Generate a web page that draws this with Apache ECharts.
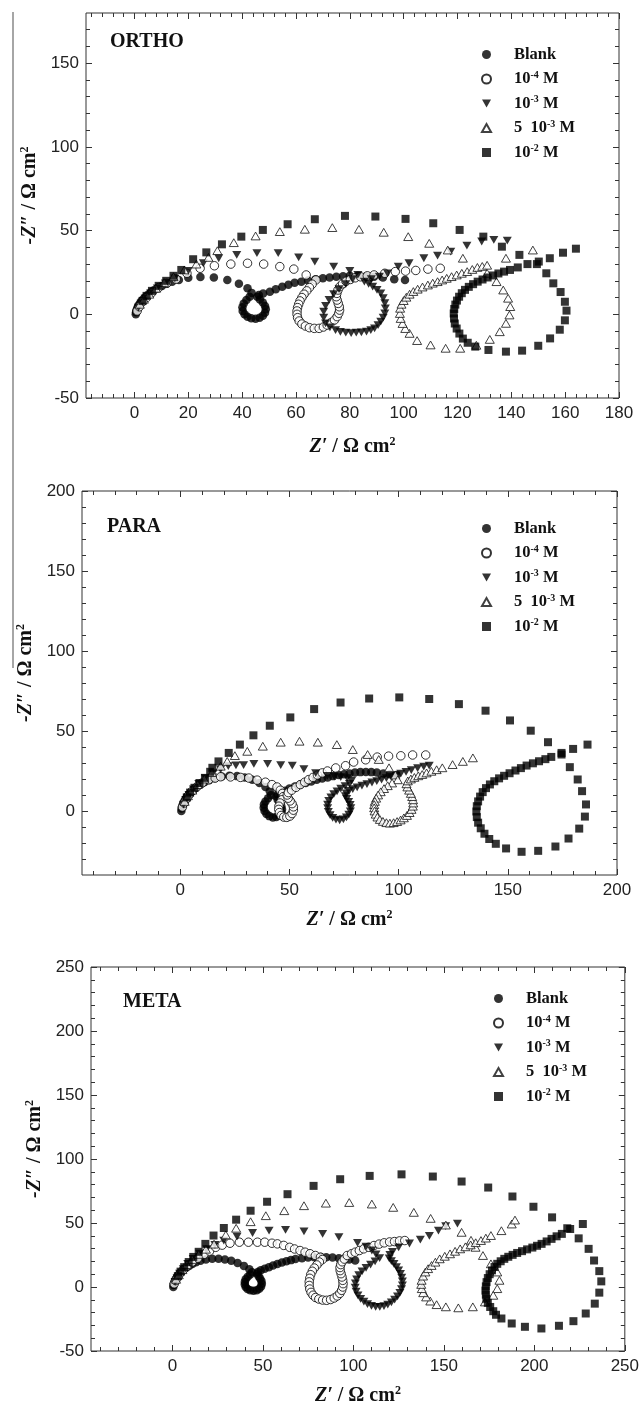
<!DOCTYPE html>
<html><head><meta charset="utf-8">
<script src="https://cdn.jsdelivr.net/npm/echarts@6/dist/echarts.min.js"></script>
<style>html,body{margin:0;padding:0;background:#fff}#c{width:642px;height:1410px}</style>
</head><body><div id="c"></div>
<script>
// ---------- series names / legend labels ----------
const seriesNames = ['Blank', '1e-4', '1e-3', '5e-3', '1e-2'];
const legendText = {
  'Blank': '{g| }{t|Blank}',
  '1e-4': '{g| }{t|10}{s|-4}{t| M}',
  '1e-3': '{g| }{t|10}{s|-3}{t| M}',
  '5e-3': '{g| }{t|5  10}{s|-3}{t| M}',
  '1e-2': '{g| }{t|10}{s|-2}{t| M}'
};
const panelTitles = ['ORTHO', 'PARA', 'META'];

// ---------- tick labels ----------
const orthoXTicks = [0, 20, 40, 60, 80, 100, 120, 140, 160, 180];
const orthoYTicks = [-50, 0, 50, 100, 150];
const paraXTicks = [0, 50, 100, 150, 200];
const paraYTicks = [0, 50, 100, 150, 200];
const metaXTicks = [0, 50, 100, 150, 200, 250];
const metaYTicks = [-50, 0, 50, 100, 150, 200, 250];

// ---------- ORTHO data [Z', -Z''] ----------
const orthoBlank = [[0.5,0],[0.6,1.3],[0.8,2.6],[1.1,3.9],[1.5,5.2],[2,6.5],[2.6,7.8],[3.3,9.1],[4.1,10.4],[5,11.7],[6,13],[7.2,14.3],[8.6,15.6],[10.2,16.9],[12,18.2],[14,19.4],[16.5,20.5],[20,21.8],[24.5,22.3],[29.5,22],[34.5,20.5],[38.8,18.3],[42,15.5],[43.5,12.8],[42.8,10.5],[41.6,8.5],[40.6,6.4],[40.1,4.2],[40.2,2],[40.9,0],[42,-1.5],[43.4,-2.4],[45,-2.6],[46.5,-2],[47.7,-0.8],[48.5,1],[48.8,3],[48.5,5],[47.7,7],[46.6,8.8],[45.6,10.5],[46.2,11.5],[47.8,12.5],[50.3,13.5],[52.5,15],[54.9,16.5],[57.2,17.7],[59.5,18.9],[62,19.5],[64.5,20.2],[67.3,21],[70,21.6],[72.5,22],[75,22.5],[77.5,22.8],[80,23],[83,23],[86,22.8],[89,22.5],[92.3,22],[96.5,21],[100.5,20.5]];
const orthoM4 = [[1,2],[1.8,4.5],[3,7.5],[4.5,10],[6.5,13],[9,16],[12,18.5],[15.5,21],[19.5,24.5],[24.4,27.5],[29.7,29],[35.8,30],[42,30.5],[48,30],[54,28.5],[59.2,27],[63.8,23.5],[67.4,20.5],[66,18],[65,16],[64,14],[63,12],[62.2,10],[61.5,8],[61,6],[60.6,4],[60.4,2],[60.4,0],[60.6,-2],[61.2,-4],[62.2,-5.8],[63.5,-7],[65,-8],[66.8,-8.4],[68.6,-8.4],[70.2,-7.6],[71.6,-6.4],[73,-5],[74.3,-3.4],[75.3,-1.4],[75.9,0.6],[76.2,2.5],[76.1,4.5],[75.7,6.5],[75.3,8.5],[75,10.5],[75.2,12.5],[75.6,14.5],[76.3,16.5],[77.3,18.2],[78.6,19.7],[80.2,20.8],[82,21.8],[84,22.4],[86.5,23],[89,23.5],[93,24.5],[96.9,25.5],[100.7,25.8],[104.5,26.2],[109,27],[113.6,27.5]];
const orthoM3 = [[1.5,4],[2.5,6.5],[4,9.5],[6,12.5],[8.5,15.5],[11.5,18.5],[15,21.5],[20,26],[25.6,30.5],[31.3,33.5],[38,35.5],[45.5,36.5],[53.4,36.5],[61,34],[67,31.5],[74,28.5],[80,26],[83,23.5],[81,21],[78.5,18],[76,15],[74,12],[72.3,8.6],[71,5],[70.3,1.6],[70.3,-2],[71,-5.4],[72.6,-7.8],[74.7,-9.4],[76.5,-10.5],[78.5,-11],[80.5,-11.2],[82.4,-11],[84.3,-10.8],[86.2,-10.4],[87.8,-9.5],[89.2,-8.4],[90.5,-6.5],[91.5,-4.4],[92.4,-2],[93,0.6],[93.2,3.5],[93,6.6],[92.4,9.6],[91.5,12.5],[90.1,14.6],[88.5,16.5],[87,18.2],[85.4,19.5],[88,21],[91,22.5],[94,24.5],[98,28.5],[102,30.5],[107.5,33.5],[112.6,35],[117.5,37.5],[123.5,41],[129,43.5],[133.5,44.5],[138.5,44]];
const ortho5M3 = [[2,6],[3.5,9],[5.5,12],[8,15.5],[11,19],[14.5,22.5],[18.5,26.5],[23,30],[27.5,34],[30.8,38],[36.9,42.8],[45,46.8],[54,49.4],[63.3,50.8],[73.5,51.8],[83.4,50.8],[92.6,49],[101.7,46.4],[109.5,42.4],[116.4,38.4],[122,33.5],[131,24.5],[134.5,19.5],[137,14.5],[138.8,9.6],[139.6,4.6],[139.3,-0.4],[138,-5.4],[135.7,-10.4],[132,-15],[127,-18.5],[121,-20.3],[115.6,-20.3],[110,-18.3],[105,-15.7],[102.2,-11.4],[100.6,-8.5],[99.6,-5.5],[98.9,-2.5],[98.6,0.5],[98.7,3.6],[99.2,6],[100,8.2],[101,10.2],[102.2,12],[103.6,13.6],[105.2,15],[107,16.3],[109,17.5],[110.8,18.6],[112.6,19.5],[114.3,20.5],[116,21.5],[117.8,22.5],[119.7,23.5],[121.6,24.5],[123.6,25.5],[125.5,26.8],[127.4,28],[129.2,28.6],[131,29.3],[138,33.5],[148,38.4]];
const orthoM2 = [[3,8],[4.5,11],[6.5,14],[9,17],[11.8,20],[14.5,23],[17.4,26.5],[21.8,32.9],[26.7,37],[32.5,41.8],[39.7,46.4],[47.7,50.4],[56.9,53.8],[67,56.8],[78.2,58.8],[89.5,58.4],[100.7,57],[111,54.4],[120.8,50.4],[129.6,46.4],[136.5,40.4],[143,35.5],[149.5,30],[153,24.5],[155.6,18.5],[158.3,13.3],[159.9,7.5],[160.5,2.2],[159.9,-3.6],[158,-9.2],[154.4,-14.4],[150,-18.8],[144,-21.7],[138,-22.3],[131.5,-21.3],[126.6,-19.3],[123.8,-17],[122,-14.5],[120.7,-11.5],[119.7,-8.5],[119,-5.5],[118.7,-2.5],[118.6,0.5],[118.8,3.2],[119.2,5.8],[119.8,8.2],[120.6,10.5],[121.6,12.6],[122.8,14.6],[124.2,16.4],[125.8,18],[127.5,19.5],[129.3,20.8],[131.2,22],[133.2,23.2],[135.2,24.4],[137.3,25.5],[139.5,26.5],[142.4,28],[146,30],[150.2,31.5],[154.3,33.5],[159.2,36.8],[164,39.2]];

// ---------- PARA data ----------
const paraBlank = [[0.5,0],[0.6,1.5],[0.9,3],[1.3,4.5],[1.8,6],[2.4,7.5],[3.1,9],[4,10.5],[5,12],[6.2,13.5],[7.6,15],[9.2,16.5],[11,18],[13.2,19.3],[15.8,20.5],[19,21.5],[22.5,22],[26,21.8],[29.5,21],[33,19.5],[36.3,17.5],[39,15],[41,12.3],[41.5,9.8],[40.2,8],[39,6],[38.3,4],[38.2,2],[38.6,0],[39.5,-1.8],[40.8,-3.2],[42.4,-4],[44,-3.8],[45.4,-2.8],[46.3,-1],[46.6,1],[46.3,3],[45.5,5],[44.6,7],[44,9],[44.6,10.5],[46,11.5],[48,12.6],[50,14],[52.5,15.3],[55,16.5],[57.5,17.5],[60,18.5],[62.5,19.5],[65,20.3],[67.5,21],[70,21.8],[72.5,22.5],[75,23],[77.5,23.5],[80,24],[82.5,24.3],[85,24.4],[87.5,24.3],[90,24],[93,23.5],[96,23],[99,22.5]];
const paraM4 = [[1,2.5],[1.8,5],[2.8,7.5],[4,10],[5.5,12.5],[7.5,15],[10,17.5],[13,19.5],[16,20.6],[18.5,21.4],[23,21.3],[27.6,21],[31.4,20.6],[35.2,19.3],[39,18],[42,16.5],[44.3,15],[45.8,13],[46.8,11],[47.2,9],[46.5,7],[45.7,5],[45.2,3],[45.1,1],[45.4,-1],[46.2,-2.8],[47.4,-3.8],[48.8,-4],[50.2,-3.2],[51.2,-1.6],[51.8,0.5],[51.8,2.6],[51.2,4.6],[50.3,6.3],[49.4,8],[49,10],[49.5,11.5],[51,13],[53,14.8],[55,16.5],[57,18],[58.8,19.6],[60.8,21],[62.8,22.5],[65,23.8],[67.4,25],[71.2,26.9],[75.7,28.3],[79.4,30.6],[84.9,32],[90.2,33.7],[95.4,34.3],[101,34.5],[106.4,35],[112.4,35]];
const paraM3 = [[1.5,4],[2.5,7],[4,10],[6,13.5],[8.5,17],[11.5,20.5],[15,23.5],[18.5,26],[22,28],[25.5,28.5],[29,28.7],[33.7,29.4],[40,29.4],[46,28.7],[51.3,28.3],[56.6,26.2],[62,23.7],[67.4,22],[70.5,21.6],[73.5,21.2],[76.5,20.5],[78.5,19],[77.5,17],[75.5,15.5],[73.5,14],[71.8,12.3],[70.3,10.5],[69,8.5],[68,6.3],[67.5,4],[67.5,1.8],[67.8,-0.5],[68.6,-2.6],[69.8,-4.3],[71.3,-5.4],[73,-5.8],[74.7,-5.2],[76.1,-4],[77.2,-2.3],[77.9,-0.3],[78.1,1.8],[77.8,3.8],[77.1,5.7],[76.2,7.5],[75.6,9.3],[76,11],[77.3,12.5],[79,13.7],[81,14.8],[83.2,15.8],[85.5,16.8],[87.8,17.8],[90,18.7],[92.2,19.6],[94.4,20.5],[96.6,21.4],[98.8,22.3],[101,23.3],[103.4,24.5],[105.8,25.6],[108.7,26.8],[111.5,27.7],[114,28.3]];
const para5M3 = [[2,6],[3.5,9.5],[5.5,13],[8,16.5],[11,20],[14.5,24],[18.5,28],[21.5,31],[25,34.6],[30.7,37.3],[37.8,40.5],[46,43],[54.6,43.6],[63,43],[71.7,41.5],[79,38.4],[85.8,35.3],[90.9,32.2],[95.6,27],[98.5,22.5],[99.6,19.5],[97,17.5],[95,15.8],[93.3,14],[91.8,12],[90.6,10],[89.7,8],[89.1,6],[88.8,4],[88.8,2],[89,0],[89.5,-2],[90.3,-3.8],[91.4,-5.3],[92.8,-6.5],[94.4,-7.3],[96,-7.6],[97.7,-7.3],[99.3,-6.6],[100.9,-5.6],[102.4,-4.3],[103.8,-2.8],[105,-1],[105.9,1],[106.5,3],[106.7,5],[106.6,7],[106.2,9],[105.6,11],[104.8,13],[104,15],[103.6,17],[104.2,18.8],[105.6,20],[107.2,21],[109,22],[110.8,22.8],[112.8,23.8],[115,24.8],[117.4,25.8],[120,27],[124.7,29],[129.4,31],[134,33.2]];
const paraM2 = [[3,8.5],[4.5,11.5],[6.5,14.5],[8.8,17.5],[11.3,20.7],[13.7,24.5],[14.7,27],[17.5,31],[22.2,36.3],[27.3,41.5],[33.5,47.3],[41,53.3],[50.4,58.5],[61.3,63.7],[73.4,67.8],[86.5,70.3],[100.3,71],[114,70],[127.6,66.8],[139.8,62.7],[151,56.6],[160.5,50.2],[168.4,43],[174.6,35.3],[178.4,27.4],[182,19.7],[184,12.4],[185.8,4.1],[185.3,-3.5],[182.7,-11],[177.8,-17.2],[171.8,-22.2],[163.9,-24.9],[156.3,-25.5],[149.2,-23.4],[144.5,-20.5],[141.5,-17.5],[139.3,-14.2],[137.6,-10.8],[136.4,-7.3],[135.8,-3.8],[135.6,-0.3],[135.8,3],[136.4,6],[137.3,9],[138.5,11.8],[140,14.3],[141.8,16.6],[143.8,18.6],[146,20.4],[148.3,22],[150.8,23.6],[153.5,25.3],[156,26.8],[158.6,28.4],[161.5,29.8],[164.3,31.1],[167.2,32.4],[169.9,33.8],[174.6,36.3],[179.9,38.8],[186.5,41.5]];

// ---------- META data ----------
const metaBlank = [[0.5,0],[0.6,1.5],[0.9,3],[1.3,4.5],[1.8,6],[2.4,7.5],[3.1,9],[4,10.5],[5,12],[6.2,13.5],[7.6,15],[9.2,16.5],[11,18],[13,19.3],[15.5,20.5],[18.5,21.5],[22,22],[25.5,22],[29,21.5],[32.5,20.5],[36,18.8],[39.5,16.5],[42.5,13.8],[44,11.5],[43,9.8],[41.6,8],[40.5,6],[40,4],[40,2],[40.5,0],[41.5,-1.6],[43,-2.6],[44.8,-3],[46.6,-2.6],[48,-1.4],[49,0.4],[49.4,2.5],[49.2,4.6],[48.5,6.6],[47.6,8.5],[46.8,10.3],[47.2,11.8],[48.8,13],[51,14.2],[53.3,15.5],[55.6,16.8],[58,18],[60.5,19.2],[63,20.2],[65.5,21],[68,21.8],[71.6,22.5],[75,23],[78.4,23.3],[82,23.4],[85,23.3],[88.5,23],[92,22.5],[95,22],[97.7,21.5],[101,20.7]];
const metaM4 = [[1,2.5],[1.8,5],[2.8,7.5],[4.2,10.5],[6,13.5],[8.3,16.5],[11,19.5],[14,22.5],[17.5,25.5],[20.5,28],[23.9,31],[27.5,32.7],[31.8,34.2],[37,35],[42,35],[47,35],[51,35],[55,34.2],[58,33.7],[61.5,32.5],[64.8,31],[67.5,29.7],[70.5,28.5],[73.3,27.2],[76,26],[79,24.6],[81.8,23.3],[82.9,21.5],[81.2,19.5],[79.8,17.2],[78.4,14.8],[77.3,12.3],[76.4,9.6],[75.9,6.8],[75.6,4],[75.6,1.2],[75.9,-1.6],[76.6,-4.2],[77.7,-6.4],[79.1,-8.2],[80.9,-9.4],[83,-10.2],[85.2,-10.4],[87.4,-9.8],[89.4,-8.6],[91.1,-7],[92.5,-5],[93.5,-2.6],[94.1,0],[94.3,2.6],[94.1,5.2],[93.7,7.8],[93.2,10.4],[92.7,12.8],[92.6,15.2],[93,17.5],[93.8,19.7],[95,21.8],[96.6,24.6],[99,26],[101,27.2],[103.3,28.5],[105.7,29.8],[108.5,31],[111.4,32.4],[114.2,33.5],[117,34.5],[120,35.2],[122.7,35.5],[125.5,36],[128.4,36.3]];
const metaM3 = [[1.5,4],[2.6,7],[4,10.5],[6,14],[8.5,18],[11.5,22],[15,26],[19,29.5],[23.5,32.8],[28.4,36.3],[35.7,39.4],[44.3,42.2],[53.4,44],[62.5,44.6],[72.7,43.5],[83,41.5],[92,38.9],[102.3,34.5],[107,31.5],[110.2,28.5],[112.5,25.5],[114.5,22.5],[112,20],[109.5,17.5],[107,15],[104.8,12.2],[103,9.2],[101.8,6],[101.1,2.8],[101,-0.5],[101.5,-3.6],[102.5,-6.5],[104,-9.2],[105.8,-11.5],[107.8,-13.4],[110,-14.8],[112.3,-15.6],[114.6,-15.6],[116.9,-15],[119,-13.8],[121,-12],[122.8,-9.8],[124.4,-7.3],[125.7,-4.6],[126.6,-1.7],[127.1,1.3],[127.1,4.3],[126.7,7.3],[126,10.2],[125,13],[123.8,15.6],[122.4,18],[121,20.2],[119.8,22.4],[120.2,25],[121.6,27.5],[125,31],[131,34],[137,37],[142,40],[147,44],[151,47.5],[157.5,49.5]];
const meta5M3 = [[2,6],[3.5,9.5],[5.5,13.5],[8,17.5],[11,21.5],[14.5,25.5],[18.5,29.5],[23,33.5],[29.5,40.7],[35.2,45.9],[43.2,51],[51.6,55.7],[61.8,59.6],[72.7,63.5],[84.8,65.5],[97.7,66],[110.2,64.8],[122,62.2],[133.4,58.3],[142.7,53.6],[151.1,48.4],[159.8,42.7],[165,36.5],[167.5,31],[171.6,24.6],[176,18.1],[179.5,11.7],[180.7,5.2],[179.5,-1.3],[177.3,-6.5],[172.7,-11.7],[166,-15.5],[158,-16.3],[151.1,-15.5],[146,-13.8],[142.5,-11],[140.2,-7.8],[138.6,-4.5],[137.8,-1.3],[137.5,2],[137.7,5.2],[138.5,8.5],[139.8,11.7],[141.3,14.3],[143.2,16.8],[145.3,19.4],[147.7,22],[150.5,24],[153.4,25.9],[156.2,27.9],[159,29.8],[161.9,31.4],[164.8,32.9],[167.6,34.6],[170.5,36.3],[173.2,38.2],[176,40.2],[181.8,44],[187.5,49.2],[189.3,52.3]];
const metaM2 = [[3,8.5],[4.5,12],[6.5,15.5],[9,19.5],[11.5,23.5],[14.5,27.5],[18.2,33.7],[22.7,40.2],[28.4,46.1],[35.2,52.6],[43.2,59.6],[52.3,66.6],[63.6,72.5],[78,79],[92.7,84.2],[109,86.8],[126.6,88],[143.9,86.3],[159.8,82.4],[174.5,77.7],[187.9,70.7],[199.5,62.7],[209.8,54.4],[218.2,45.9],[224.5,38],[230,29.8],[233,20.7],[235.9,12.4],[237,4.4],[235.9,-4.4],[233.4,-13],[228.4,-20.7],[221.6,-26.7],[213.6,-30.3],[203.9,-32.4],[194.8,-31.1],[187.5,-28.5],[181.8,-24.6],[178.8,-21.7],[177.3,-18.9],[175.6,-15.6],[174.3,-12.4],[173.5,-9.2],[173.2,-6],[173,-2.8],[173.2,0.5],[173.6,3.8],[174.3,7],[175.3,10],[176.6,13],[178,15.6],[179.5,18.1],[181.4,20.1],[183.4,22],[185.6,23.6],[188,25.1],[190.5,26.6],[193.2,28],[196,29.4],[198.9,30.8],[201.5,32.2],[204,33.7],[206.8,35.6],[209.5,37.6],[212.3,39.6],[215.2,41.5],[219.8,45.3],[226.8,49.2]];

// ---------- styling ----------
const SERIF = 'Liberation Serif';
const SANS = 'Liberation Sans';
const SYM = {
  'Blank': { symbol: 'circle', size: 8.5, itemStyle: { color: '#000' } },
  '1e-4': { symbol: 'circle', size: 8.5, itemStyle: { color: '#fff', borderColor: '#000', borderWidth: 1 } },
  '1e-3': { symbol: 'path://M0,0L10,0L5,8.66Z', size: 9, itemStyle: { color: '#000' } },
  '5e-3': { symbol: 'path://M5,0L10,8.66L0,8.66Z', size: 9, itemStyle: { color: '#fff', borderColor: '#111', borderWidth: 1 } },
  '1e-2': { symbol: 'path://M0,0H10V10H0Z', size: 8, itemStyle: { color: '#000' } }
};

const panels = [
  { grid: { left: 86, top: 13, width: 533, height: 385 }, xr: [-18, 180], yr: [-50, 180],
    xTicks: orthoXTicks, yTicks: orthoYTicks, xMinor: 4, yMinor: 10,
    data: [orthoBlank, orthoM4, orthoM3, ortho5M3, orthoM2],
    titlePos: [105, 27], legendPos: [476, 41], xGap: 38, yGap: 41 },
  { grid: { left: 82, top: 491, width: 535, height: 384 }, xr: [-45, 200], yr: [-40, 200],
    xTicks: paraXTicks, yTicks: paraYTicks, xMinor: 10, yMinor: 10,
    data: [paraBlank, paraM4, paraM3, para5M3, paraM2],
    titlePos: [102, 512], legendPos: [476, 515], xGap: 34, yGap: 35 },
  { grid: { left: 91, top: 967, width: 536, height: 384 }, xr: [-45, 250], yr: [-50, 250],
    xTicks: metaXTicks, yTicks: metaYTicks, xMinor: 10, yMinor: 10,
    data: [metaBlank, metaM4, metaM3, meta5M3, metaM2],
    titlePos: [118, 987], legendPos: [488, 985], xGap: 34, yGap: 38 }
];

function minorVals(min, max, step, majors) {
  const out = [];
  for (let k = Math.ceil(min / step); k * step <= max; k++) {
    const v = Math.round(k * step * 1000) / 1000;
    if (v > min && v < max && majors.indexOf(v) < 0) out.push(v);
  }
  return out;
}

const nameRich = {
  i: { fontFamily: SERIF, fontStyle: 'italic', fontWeight: 'bold', fontSize: 20, color: '#111' },
  r: { fontFamily: SERIF, fontWeight: 'bold', fontSize: 20, color: '#111' },
  s: { fontFamily: SERIF, fontWeight: 'bold', fontSize: 12, color: '#111', padding: [0, 0, 10, 0] }
};

function makeAxis(gi, range, position, vals, len, labels, extra) {
  const ax = {
    type: 'value', gridIndex: gi, min: range[0], max: range[1], position: position,
    axisLine: { show: false, onZero: false },
    splitLine: { show: false },
    axisTick: { show: true, inside: true, length: len, customValues: vals, lineStyle: { color: '#333', width: 1 } },
    axisLabel: labels ? { show: true, customValues: labels, margin: 7, fontFamily: SANS, fontSize: 17, color: '#222' } : { show: false }
  };
  return Object.assign(ax, extra || {});
}

const grids = [], xAxes = [], yAxes = [], series = [], legends = [], titles = [];
panels.forEach((p, gi) => {
  grids.push(Object.assign({ show: true, borderColor: '#333', borderWidth: 1, backgroundColor: 'transparent' }, p.grid));
  const xMin = minorVals(p.xr[0], p.xr[1], p.xMinor, p.xTicks);
  const yMin = minorVals(p.yr[0], p.yr[1], p.yMinor, p.yTicks);
  const xBase = xAxes.length, yBase = yAxes.length;
  xAxes.push(makeAxis(gi, p.xr, 'bottom', p.xTicks, 6, p.xTicks, {
    name: '{i|Z\u2032}{r| / \u03A9 cm}{s|2}', nameLocation: 'middle', nameGap: p.xGap,
    nameTextStyle: { rich: nameRich }
  }));
  xAxes.push(makeAxis(gi, p.xr, 'bottom', xMin, 4, null));
  xAxes.push(makeAxis(gi, p.xr, 'top', p.xTicks, 6, null));
  xAxes.push(makeAxis(gi, p.xr, 'top', xMin, 4, null));
  yAxes.push(makeAxis(gi, p.yr, 'left', p.yTicks, 6, p.yTicks, {
    name: '{i|-Z\u2033}{r| / \u03A9 cm}{s|2}', nameLocation: 'middle', nameGap: p.yGap, nameRotate: 90,
    nameTextStyle: { rich: nameRich, padding: [0, 0, 0, 20] }
  }));
  yAxes.push(makeAxis(gi, p.yr, 'left', yMin, 4, null));
  yAxes.push(makeAxis(gi, p.yr, 'right', p.yTicks, 6, null));
  yAxes.push(makeAxis(gi, p.yr, 'right', yMin, 4, null));
  seriesNames.forEach((nm, si) => {
    const s = SYM[nm];
    series.push({
      type: 'scatter', name: nm, xAxisIndex: xBase, yAxisIndex: yBase,
      symbol: s.symbol, symbolSize: s.size, symbolKeepAspect: true,
      itemStyle: s.itemStyle, data: p.data[si], silent: true, animation: false
    });
  });
  legends.push({
    data: seriesNames, orient: 'vertical', left: p.legendPos[0], top: p.legendPos[1],
    itemWidth: 9, itemHeight: 9, itemGap: 7, selectedMode: false,
    formatter: n => legendText[n],
    textStyle: {
      fontFamily: SERIF, fontWeight: 'bold', fontSize: 16, color: '#111',
      rich: {
        g: { width: 18, fontSize: 16, lineHeight: 18 },
        t: { fontFamily: SERIF, fontWeight: 'bold', fontSize: 16.5, color: '#111', lineHeight: 18 },
        s: { fontFamily: SERIF, fontWeight: 'bold', fontSize: 10, color: '#111', padding: [0, 0, 8, 0] }
      }
    }
  });
  titles.push({
    text: panelTitles[gi], left: p.titlePos[0], top: p.titlePos[1],
    textStyle: { fontFamily: SERIF, fontWeight: 'bold', fontSize: 20, color: '#111' }
  });
});

const chart = echarts.init(document.getElementById('c'), null, { renderer: 'canvas' });
chart.setOption({
  backgroundColor: '#fff',
  animation: false,
  title: titles,
  legend: legends,
  grid: grids,
  xAxis: xAxes,
  yAxis: yAxes,
  series: series,
  graphic: [{ type: 'line', shape: { x1: 13, y1: 12, x2: 13, y2: 668 }, style: { stroke: '#888', lineWidth: 1.5 }, silent: true }]
});
</script>
</body></html>
